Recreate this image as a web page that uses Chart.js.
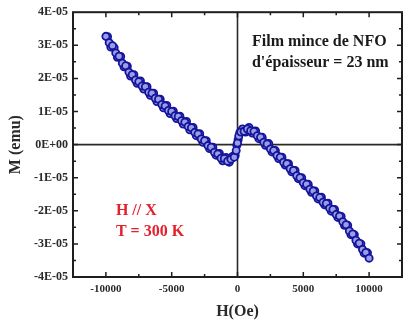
<!DOCTYPE html>
<html>
<head>
<meta charset="utf-8">
<script src="https://cdn.jsdelivr.net/npm/chart.js@4.4.1/dist/chart.umd.min.js"></script>
<style>
  html, body { margin: 0; padding: 0; background: #fff; }
  #wrap { width: 403px; height: 325px; }
</style>
</head>
<body>
<div id="wrap"><canvas id="loopChart" width="403" height="325"></canvas></div>
<script>
// field in Oe, moment in units of 1E-05 emu
const fieldA = [-10000, -9750, -9500, -9250, -9000, -8750, -8500, -8250, -8000, -7750,
  -7500, -7250, -7000, -6750, -6500, -6250, -6000, -5750, -5500, -5250,
  -5000, -4750, -4500, -4250, -4000, -3750, -3500, -3250, -3000, -2750,
  -2500, -2250, -2000, -1750, -1500, -1250, -1000, -750, -500, -250,
  -100, 0, 100, 250, 500, 750, 1000, 1250, 1500, 1750,
  2000, 2250, 2500, 2750, 3000, 3250, 3500, 3750, 4000, 4250,
  4500, 4750, 5000, 5250, 5500, 5750, 6000, 6250, 6500, 6750,
  7000, 7250, 7500, 7750, 8000, 8250, 8500, 8750, 9000, 9250,
  9500, 9750, 10000];
const momentA = [3.27, 3.08, 2.99, 2.77, 2.67, 2.46, 2.38, 2.19, 2.11, 1.95,
  1.90, 1.77, 1.75, 1.58, 1.55, 1.40, 1.37, 1.21, 1.17, 1.03,
  1.00, 0.87, 0.85, 0.72, 0.68, 0.55, 0.51, 0.37, 0.32, 0.17,
  0.12, -0.03, -0.08, -0.23, -0.28, -0.41, -0.42, -0.50, -0.44, -0.38,
  -0.18, 0.05, 0.26, 0.38, 0.40, 0.47, 0.42, 0.40, 0.27, 0.22,
  0.07, 0.02, -0.13, -0.18, -0.33, -0.38, -0.53, -0.58, -0.73, -0.78,
  -0.94, -1.00, -1.15, -1.20, -1.35, -1.40, -1.55, -1.60, -1.74, -1.78,
  -1.92, -1.96, -2.11, -2.16, -2.33, -2.42, -2.61, -2.70, -2.89, -2.98,
  -3.17, -3.26, -3.43];

const fieldB = [-9875, -9625, -9375, -9125, -8875, -8625, -8375, -8125, -7875, -7625,
  -7375, -7125, -6875, -6625, -6375, -6125, -5875, -5625, -5375, -5125,
  -4875, -4625, -4375, -4125, -3875, -3625, -3375, -3125, -2875, -2625,
  -2375, -2125, -1875, -1625, -1375, -1125, -875, -625, -375, -175,
  -50, 50, 175, 375, 625, 875, 1125, 1375, 1625, 1875,
  2125, 2375, 2625, 2875, 3125, 3375, 3625, 3875, 4125, 4375,
  4625, 4875, 5125, 5375, 5625, 5875, 6125, 6375, 6625, 6875,
  7125, 7375, 7625, 7875, 8125, 8375, 8625, 8875, 9125, 9375,
  9625, 9875];
const momentB = [3.26, 2.95, 2.93, 2.64, 2.66, 2.35, 2.37, 2.07, 2.11, 1.85,
  1.92, 1.68, 1.75, 1.49, 1.55, 1.30, 1.37, 1.11, 1.18, 0.94,
  1.01, 0.79, 0.86, 0.62, 0.70, 0.45, 0.52, 0.27, 0.33, 0.07,
  0.12, -0.12, -0.08, -0.32, -0.27, -0.49, -0.39, -0.53, -0.36, -0.33,
  -0.02, 0.15, 0.36, 0.47, 0.38, 0.52, 0.35, 0.41, 0.18, 0.22,
  -0.02, 0.03, -0.22, -0.18, -0.42, -0.38, -0.62, -0.58, -0.82, -0.78,
  -1.03, -1.00, -1.24, -1.20, -1.44, -1.40, -1.64, -1.59, -1.82, -1.77,
  -2.01, -1.96, -2.20, -2.17, -2.44, -2.44, -2.72, -2.72, -3.00, -3.00,
  -3.28, -3.27];

const noteBlack = ['Film mince de NFO', "d'épaisseur = 23 nm"];
const noteRed = ['H // X', 'T = 300 K'];

const serif = "'Liberation Serif', 'Times New Roman', serif";

function toPoints(xs, ys) {
  return xs.map((x, i) => ({ x: x, y: ys[i] }));
}

// crosshair at H=0, M=0 behind the points, frame with inward ticks on top
const frameTicks = {
  id: 'frameTicks',
  beforeDatasetsDraw(chart) {
    const { ctx, chartArea: a, scales: { x, y } } = chart;
    ctx.save();
    ctx.strokeStyle = '#2a2a2a';
    ctx.lineWidth = 1.6;
    ctx.beginPath();
    const x0 = x.getPixelForValue(0), y0 = y.getPixelForValue(0);
    ctx.moveTo(x0, a.top); ctx.lineTo(x0, a.bottom);
    ctx.moveTo(a.left, y0); ctx.lineTo(a.right, y0);
    ctx.stroke();
    ctx.restore();
  },
  afterDraw(chart) {
    const { ctx, chartArea: a, scales: { x, y } } = chart;
    ctx.save();
    ctx.strokeStyle = '#1e1e1e';
    ctx.lineWidth = 1.5;
    ctx.beginPath();
    x.ticks.forEach(t => {
      if (t.value <= x.min || t.value >= x.max) return;
      const len = t.value % 5000 === 0 ? 5 : 3;
      const px = x.getPixelForValue(t.value);
      ctx.moveTo(px, a.bottom); ctx.lineTo(px, a.bottom - len);
      ctx.moveTo(px, a.top); ctx.lineTo(px, a.top + len);
    });
    y.ticks.forEach(t => {
      if (t.value <= y.min || t.value >= y.max) return;
      const len = Number.isInteger(t.value) ? 5 : 3;
      const py = y.getPixelForValue(t.value);
      ctx.moveTo(a.left, py); ctx.lineTo(a.left + len, py);
      ctx.moveTo(a.right, py); ctx.lineTo(a.right - len, py);
    });
    ctx.stroke();
    ctx.lineWidth = 2;
    ctx.strokeRect(a.left, a.top, a.right - a.left, a.bottom - a.top);

    // annotations placed in data coordinates
    ctx.textBaseline = 'middle';
    ctx.textAlign = 'left';
    ctx.font = 'bold 16px ' + serif;
    ctx.fillStyle = '#1a1a1a';
    ctx.fillText(noteBlack[0], x.getPixelForValue(1100), y.getPixelForValue(3.09));
    ctx.fillText(noteBlack[1], x.getPixelForValue(1100), y.getPixelForValue(2.46));
    ctx.fillStyle = '#e3202c';
    ctx.fillText(noteRed[0], x.getPixelForValue(-9240), y.getPixelForValue(-2.0));
    ctx.fillText(noteRed[1], x.getPixelForValue(-9240), y.getPixelForValue(-2.64));
    ctx.restore();
  }
};

const pointStyle = {
  pointRadius: 3.6,
  pointBorderWidth: 1.8,
  pointBackgroundColor: '#9a9ee6',
  pointBorderColor: '#15159c',
  showLine: false
};

new Chart(document.getElementById('loopChart'), {
  type: 'scatter',
  data: {
    datasets: [
      Object.assign({ label: 'sweep 1', data: toPoints(fieldA, momentA) }, pointStyle),
      Object.assign({ label: 'sweep 2', data: toPoints(fieldB, momentB) }, pointStyle)
    ]
  },
  options: {
    responsive: false,
    animation: false,
    // no auto padding: the frame should run to the right edge like the original
    layout: { autoPadding: false, padding: { top: 12, right: 1, left: 0, bottom: 0 } },
    plugins: { legend: { display: false }, tooltip: { enabled: false } },
    scales: {
      x: {
        type: 'linear',
        min: -12500,
        max: 12500,
        grid: { display: false, drawTicks: false },
        border: { display: false },
        ticks: {
          stepSize: 2500,
          autoSkip: false,
          maxRotation: 0,
          padding: 0,
          color: '#2a2a2a',
          font: { family: serif, size: 11, weight: 'bold', lineHeight: 2.3 },
          callback: v => (v % 5000 === 0 && Math.abs(v) < 12500) ? String(v) : ''
        },
        title: {
          display: true,
          text: 'H(Oe)',
          color: '#2a2a2a',
          font: { family: serif, size: 16, weight: 'bold' },
          padding: { top: 0, bottom: 4 }
        },
        afterFit: s => { s.height = 48; }
      },
      y: {
        min: -4,
        max: 4,
        grid: { display: false, drawTicks: false },
        border: { display: false },
        ticks: {
          stepSize: 0.5,
          autoSkip: false,
          padding: 5,
          color: '#2a2a2a',
          font: { family: serif, size: 12, weight: 'bold' },
          callback: v => Number.isInteger(v) ? (v === 0 ? '0E+00' : v + 'E-05') : ''
        },
        title: {
          display: true,
          text: 'M (emu)',
          color: '#2a2a2a',
          font: { family: serif, size: 16, weight: 'bold' },
          padding: { top: 6, bottom: 0 }
        },
        afterFit: s => { s.width = 73; }
      }
    }
  },
  plugins: [frameTicks]
});
</script>
</body>
</html>
